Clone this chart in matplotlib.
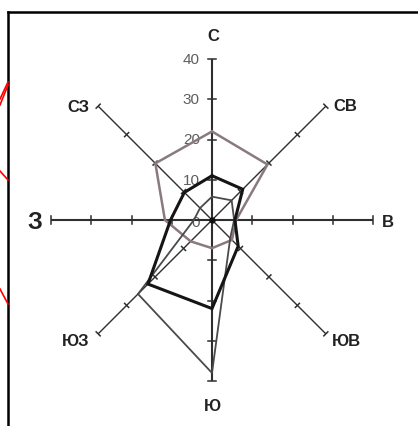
import numpy as np
import matplotlib.pyplot as plt
from matplotlib.lines import Line2D

# wind directions, clockwise from north
directions = ['С', 'СВ', 'В', 'ЮВ', 'Ю', 'ЮЗ', 'З', 'СЗ']
# repeatability of winds, %
annual = [11, 10.8, 5.7, 9.2, 22, 22.5, 10.3, 9.7]
warm = [22, 19.5, 6, 7, 7, 7.5, 11.7, 19.9]
cold = [5.8, 6.9, 5.5, 6.4, 38, 26, 4.5, 4.2]
rings = [10, 20, 30, 40]
ring_labels = ['0', '10', '20', '30', '40']

angles = np.deg2rad(np.arange(0, 360, 45))


def to_xy(r, a):
    r = np.asarray(r, dtype=float)
    return r * np.sin(a), r * np.cos(a)


W, H = 418, 427
fig = plt.figure(figsize=(W / 100, H / 100), dpi=100)
fig.patch.set_facecolor('white')
ax = fig.add_axes([0, 0, 1, 1])
s = 161 / 40  # pixels per unit
cx, cy = 212, 221
ax.set_xlim(-cx / s, (W - cx) / s)
ax.set_ylim(-(H - cy) / s, cy / s)
ax.axis('off')

# spokes with tick marks
rmax = rings[-1]
for i, a in enumerate(angles):
    straight = i % 2 == 0
    lw = 1.5 if straight else 1.0
    x, y = to_xy([0, rmax], a)
    ax.plot(x, y, color='#2e2e2e', lw=lw, zorder=2, solid_capstyle='butt')
    h = 1.0 if straight else 0.7
    px, py = np.cos(a), -np.sin(a)
    for r in rings:
        tx, ty = to_xy(r, a)
        ax.plot([tx - h * px, tx + h * px], [ty - h * py, ty + h * py],
                color='#2e2e2e', lw=1.1, zorder=2)

# radial scale labels on the north spoke
for r, lab in zip([0] + rings, ring_labels):
    ax.text(-3.0, r - (0.6 if r == 0 else 0), lab, ha='right', va='center',
            fontsize=11, color='#5e5e5e', family='Liberation Sans', zorder=1)

# series polygons
for vals, col, lw, z in [(warm, '#8a7a80', 1.8, 3),
                         (cold, '#4a4a4a', 1.3, 4),
                         (annual, '#151515', 2.2, 5)]:
    x, y = to_xy(vals + vals[:1], np.append(angles, angles[0]))
    ax.plot(x, y, color=col, lw=lw, zorder=z, solid_joinstyle='miter')

ax.plot([0], [0], 'o', color='#111111', ms=3.5, zorder=6)

# direction labels
offsets = [(1, 23), (19, 1), (15, -2), (21, -7),
           (0, -25), (-23, -7), (-16, -2), (-20, 0)]
for d, a, off in zip(directions, angles, offsets):
    ex, ey = to_xy(rmax, a)
    ax.annotate(d, xy=(ex, ey), xytext=off, textcoords='offset pixels',
                ha='center', va='center', fontsize=17 if d == 'З' else 12,
                fontweight='bold', color='#222222', family='Liberation Sans')

# frame of the page and red marks on the left edge
def px_line(xs, ys, **kw):
    fig.add_artist(Line2D([v / W for v in xs], [1 - v / H for v in ys],
                          transform=fig.transFigure, **kw))


px_line([8, W], [13, 13], color='black', lw=1.8)
px_line([8, 8], [13, H], color='black', lw=1.8)
px_line([0, 8], [100, 83], color='#ff0000', lw=1.2)
px_line([0, 8], [106, 86], color='#ff0000', lw=1.2)
px_line([0, 8], [172, 181], color='#ff0000', lw=1.2)
px_line([0, 8], [290, 305], color='#ff0000', lw=1.2)

fig.savefig('out.png', dpi=100, facecolor='white')
